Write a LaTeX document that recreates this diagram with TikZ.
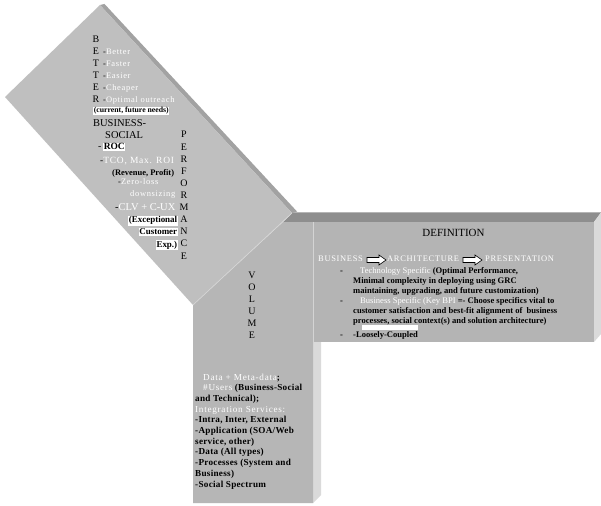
\documentclass[tikz,border=0pt]{standalone}
\usepackage{fontspec}
\setmainfont{Liberation Serif}
\newfontfamily\spc[LetterSpace=8]{Liberation Serif}
\newfontfamily\spb[LetterSpace=3]{Liberation Serif}
\newcommand\fsz[1]{\fontsize{#1}{#1}\selectfont}
\newcommand\wtx[1]{\textcolor{white}{\mdseries\spc #1}}

\definecolor{armface}{HTML}{BFBFBF}
\definecolor{volface}{HTML}{B6B6B6}
\definecolor{defface}{HTML}{B4B4B4}
\definecolor{topband}{HTML}{8E8E8E}
\definecolor{sideface}{HTML}{DADADA}
\definecolor{bevel}{HTML}{A2A2A2}
\definecolor{seam}{HTML}{D4D4D4}

\tikzset{
  txt/.style={inner sep=0pt, anchor=base west, text=black},
  txtr/.style={inner sep=0pt, anchor=base east, text=black},
  letter/.style={inner sep=0pt, anchor=base, font=\fsz{10}},
  hl/.style={fill=white, inner sep=0.6pt},
  blockarrow/.style={draw=black, line width=0.6pt, fill=white},
}

\begin{document}
\begin{tikzpicture}[x=1bp, y=-1bp]
\useasboundingbox (0,0) rectangle (601,506);
\fill[white] (0,0) rectangle (601,506);

% ---- lower arm (VOLUME) ----
\fill[sideface] (313,342) -- (321,342) -- (321,495) -- (313,503) -- cycle;
\fill[volface] (193,503) -- (313,503) -- (313,222) -- (283,222) -- (193,305) -- cycle;

% ---- right arm (DEFINITION) ----
\fill[topband] (283,222) -- (293,212.5) -- (601,212.5) -- (594,222) -- cycle;
\fill[sideface] (594,222) -- (601,212.5) -- (601,334) -- (594,342) -- cycle;
\fill[defface] (313,222) rectangle (594,342);
\draw[seam, line width=0.8pt] (313.4,222) -- (313.4,342);

% ---- upper left arm (BETTER / PERFORMANCE) ----
\fill[bevel] (100,5) -- (104.5,4) -- (297,211.5) -- (292,213) -- cycle;
\fill[armface] (100,5) -- (292,213) -- (193,305) -- (5,97) -- cycle;
\draw[seam, line width=0.7pt] (292,213) -- (193,305);

% ---- BETTER ----
\node[letter] (lb1) at (96,43) {B};
\node[letter] (lb2) at (96,55) {E};
\node[letter] (lb3) at (96,67) {T};
\node[letter] (lb4) at (96,79) {T};
\node[letter] (lb5) at (96,91) {E};
\node[letter] (lb6) at (96,103) {R};
\node[txt, font=\fsz{8.5}] (better) at (103,55) {-\wtx{Better}};
\node[txt, font=\fsz{8.5}] (faster) at (103,67) {-\wtx{Faster}};
\node[txt, font=\fsz{8.5}] (easier) at (103,79) {-\wtx{Easier}};
\node[txt, font=\fsz{8.5}] (cheaper) at (103,91) {-\wtx{Cheaper}};
\node[txt, font=\fsz{8.5}] (outreach) at (103,103) {-\wtx{Optimal outreach}};
\node[txt, hl, font=\fsz{7.8}\bfseries] (needs) at (93,113) {(current, future needs)};
\node[txt, font=\fsz{10.5}] (bus) at (93,127) {BUSINESS-};
\node[txt, font=\fsz{10.5}] (soc) at (105,138.5) {SOCIAL};
\node[txt, font=\fsz{10}] (rocdash) at (98,150) {-};
\node[txt, hl, font=\fsz{9.5}\bfseries] (roc) at (103,150) {ROC};
\node[txt, font=\fsz{9.5}] (tco) at (100,164) {-\wtx{TCO, Max. ROI}};
\node[txt, font=\fsz{8.5}\bfseries] (rev) at (112,176) {(Revenue, Profit)};
\node[txt, font=\fsz{8.5}] (zero) at (118,185) {-\wtx{Zero-loss}};
\node[txt, font=\fsz{8.5}] (down) at (130,197) {\wtx{downsizing}};
\node[txt, font=\fsz{10.5}] (clv) at (115,211) {-\textcolor{white}{CLV + C-UX}};
\node[txtr, hl, font=\fsz{9}\bfseries] (exc1) at (178,223) {(Exceptional};
\node[txtr, hl, font=\fsz{9}\bfseries] (exc2) at (178,235) {Customer};
\node[txtr, hl, font=\fsz{9}\bfseries] (exc3) at (178,247) {Exp.)};

% ---- PERFORMANCE ----
\foreach \ch [count=\i from 0] in {P,E,R,F,O,R,M,A,N,C,E}
  \node[letter] (perf\i) at (184,138+12.1*\i) {\ch};

% ---- VOLUME ----
\foreach \ch [count=\i from 0] in {V,O,L,U,M,E}
  \node[letter] (vol\i) at (252,278.5+12*\i) {\ch};

\begin{scope}[every node/.style={txt, font=\fsz{9.2}\spb\bfseries}]
  \node (v1) at (203,380) {\wtx{Data + Meta-data};};
  \node (v2) at (203,390.7) {\wtx{\#Users} (Business-Social};
  \node (v3) at (195,401.4) {and Technical);};
  \node (v4) at (195,412.1) {\wtx{Integration Services:}};
  \node (v5) at (195,422.8) {-Intra, Inter, External};
  \node (v6) at (195,433.5) {-Application (SOA/Web};
  \node (v7) at (195,444.2) {service, other)};
  \node (v8) at (195,454.9) {-Data (All types)};
  \node (v9) at (195,465.6) {-Processes (System and};
  \node (v10) at (195,476.3) {Business)};
  \node (v11) at (195,487) {-Social Spectrum};
\end{scope}

% ---- DEFINITION ----
\node[letter, font=\fsz{11}] (def) at (453.5,237) {DEFINITION};
\node[txt, font=\fsz{8.5}\spc, text=white] (dbus) at (318,261) {BUSINESS};
\node[txt, font=\fsz{8.5}\spc, text=white] (darch) at (387,261) {ARCHITECTURE};
\node[txt, font=\fsz{8.5}\spc, text=white] (dpres) at (485,261) {PRESENTATION};
\path[blockarrow] (367,257.5) -- (379,257.5) -- (379,255) -- (386,260) -- (379,265) -- (379,262.5) -- (367,262.5) -- cycle;
\path[blockarrow] (463,257.5) -- (475,257.5) -- (475,255) -- (482,260) -- (475,265) -- (475,262.5) -- (463,262.5) -- cycle;

\begin{scope}[every node/.style={txt, font=\fsz{8.6}\bfseries}]
  \node (b1) at (340,273) {-};
  \node (b2) at (340,303) {-};
  \node (b3) at (340,337) {-};
  \node (d1) at (360,273) {\textcolor{white}{\mdseries Technology Specific} (Optimal Performance,};
  \node (d2) at (353,283) {Minimal complexity in deploying using GRC};
  \node (d3) at (353,293) {maintaining, upgrading, and future customization)};
  \node (d4) at (360,303) {\textcolor{white}{\mdseries Business Specific (Key BPI} =- Choose specifics vital to};
  \node (d5) at (353,313) {customer satisfaction and best-fit alignment of\ \ business};
  \node (d6) at (353,323) {processes, social context(s) and solution architecture)};
  \node (d7) at (353,337) {-Loosely-Coupled};
\end{scope}
\fill[white] (362,324.5) rectangle (418,330);
\end{tikzpicture}
\end{document}
